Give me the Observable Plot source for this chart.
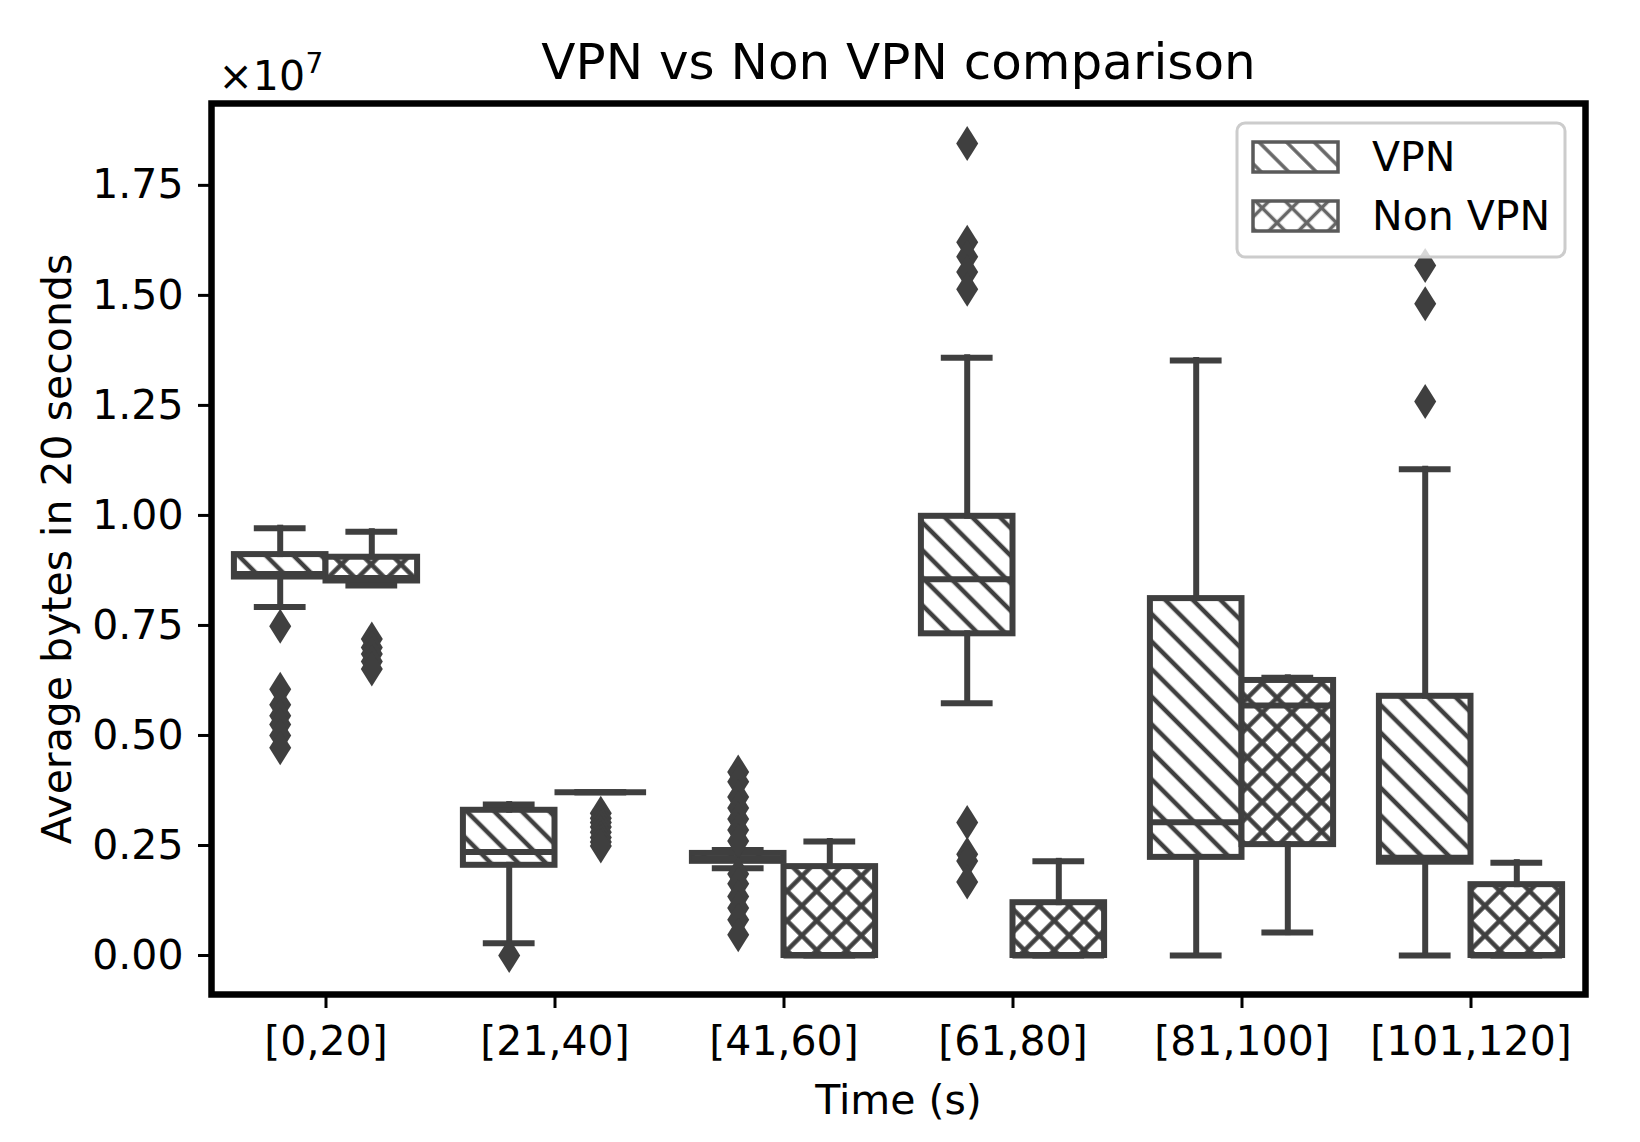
<!DOCTYPE html>
<html>
<head>
<meta charset="utf-8">
<script src="https://cdn.jsdelivr.net/npm/d3@7"></script>
<script src="https://cdn.jsdelivr.net/npm/@observablehq/plot@0.6"></script>
<style>
  html, body { margin: 0; padding: 0; background: #fff; }
  #chart svg { display: block; }
</style>
</head>
<body>
<div id="chart"></div>
<script>
// ---- data (bytes) ----
const categories = ["[0,20]", "[21,40]", "[41,60]", "[61,80]", "[81,100]", "[101,120]"];
const groups = ["VPN", "Non VPN"];

const vpnLow  = [7.92e6, 0.28e6, 1.98e6, 5.73e6, 0, 0];
const vpnQ1   = [8.60e6, 2.05e6, 2.14e6, 7.31e6, 2.23e6, 2.12e6];
const vpnMed  = [8.67e6, 2.35e6, 2.21e6, 8.55e6, 3.03e6, 2.22e6];
const vpnQ3   = [9.11e6, 3.30e6, 2.32e6, 9.98e6, 8.11e6, 5.89e6];
const vpnHigh = [9.71e6, 3.43e6, 2.40e6, 13.58e6, 13.52e6, 11.05e6];
const vpnOutliers = [
  [7.48e6, 6.05e6, 5.70e6, 5.45e6, 5.25e6, 5.00e6, 4.72e6],
  [0.0],
  [4.17e6, 3.95e6, 3.60e6, 3.35e6, 3.10e6, 2.85e6, 2.60e6, 1.85e6, 1.63e6, 1.34e6, 1.08e6, 0.81e6, 0.47e6],
  [18.45e6, 16.21e6, 15.88e6, 15.53e6, 15.14e6, 3.02e6, 2.30e6, 2.15e6, 1.67e6],
  [],
  [15.68e6, 14.81e6, 12.59e6]
];

const nonLow  = [8.41e6, 3.71e6, 0, 0, 0.52e6, 0];
const nonQ1   = [8.51e6, 3.71e6, 0, 0, 2.52e6, 0];
const nonMed  = [8.58e6, 3.71e6, 0, 0, 5.68e6, 0];
const nonQ3   = [9.05e6, 3.71e6, 2.02e6, 1.20e6, 6.25e6, 1.61e6];
const nonHigh = [9.63e6, 3.71e6, 2.59e6, 2.14e6, 6.31e6, 2.11e6];
const nonOutliers = [
  [7.19e6, 7.00e6, 6.85e6, 6.68e6, 6.51e6],
  [3.23e6, 3.12e6, 3.02e6, 2.92e6, 2.80e6, 2.68e6, 2.58e6, 2.49e6],
  [], [], [], []
];

const yTicks = [0, 2.5e6, 5e6, 7.5e6, 10e6, 12.5e6, 15e6, 17.5e6];

// ---- tables built from the arrays ----
const stats = {
  "VPN":     {low: vpnLow, q1: vpnQ1, med: vpnMed, q3: vpnQ3, high: vpnHigh, out: vpnOutliers},
  "Non VPN": {low: nonLow, q1: nonQ1, med: nonMed, q3: nonQ3, high: nonHigh, out: nonOutliers}
};
const boxes = groups.flatMap((g, gi) => categories.map((c, ci) => ({
  group: g, gi, ci,
  low: stats[g].low[ci], q1: stats[g].q1[ci], med: stats[g].med[ci],
  q3: stats[g].q3[ci], high: stats[g].high[ci]
})));
const fliers = groups.flatMap((g, gi) => categories.flatMap((c, ci) =>
  stats[g].out[ci].map(v => ({group: g, gi, ci, v}))));

// ---- layout constants ----
const W = 1640, H = 1142;
const mL = 211, mR = 55, mT = 103, mB = 148;
const BW = 0.4;              // width of one box in category units
const gray = "#3f3f3f";
const side = d => (d.gi === 0 ? -1 : 1);
const bx1 = d => d.ci + Math.min(0, side(d) * BW);
const bx2 = d => d.ci + Math.max(0, side(d) * BW);
const cx  = d => d.ci + side(d) * BW / 2;

const thinDiamond = {
  draw(ctx, size) {
    const r = Math.sqrt(size / Math.PI);
    const h = 1.75 * r, w = 1.1 * r;
    ctx.moveTo(0, -h); ctx.lineTo(w, 0); ctx.lineTo(0, h); ctx.lineTo(-w, 0); ctx.closePath();
  }
};

const lineOpts = {stroke: gray, strokeWidth: 6, strokeLinecap: "square"};

const plot = Plot.plot({
  width: W, height: H,
  marginLeft: mL, marginRight: mR, marginTop: mT, marginBottom: mB,
  style: {fontFamily: "DejaVu Sans", fontSize: "41px", background: "white", color: "black", overflow: "visible"},
  x: {domain: [-0.5, 5.5]},
  y: {domain: [-0.886e6, 19.36e6]},
  marks: [
    Plot.rect(boxes.filter(d => d.gi === 0), {x1: bx1, x2: bx2, y1: "q1", y2: "q3", fill: "url(#hatchVPN)", stroke: gray, strokeWidth: 6}),
    Plot.rect(boxes.filter(d => d.gi === 1), {x1: bx1, x2: bx2, y1: "q1", y2: "q3", fill: "url(#hatchNon)", stroke: gray, strokeWidth: 6}),
    Plot.ruleX(boxes.filter(d => d.high > d.q3), {x: cx, y1: "q3", y2: "high", ...lineOpts}),
    Plot.ruleX(boxes.filter(d => d.low < d.q1), {x: cx, y1: "low", y2: "q1", ...lineOpts}),
    Plot.ruleY(boxes, {y: "high", x1: d => cx(d) - BW / 4, x2: d => cx(d) + BW / 4, ...lineOpts}),
    Plot.ruleY(boxes, {y: "low", x1: d => cx(d) - BW / 4, x2: d => cx(d) + BW / 4, ...lineOpts}),
    Plot.ruleY(boxes, {y: "med", x1: bx1, x2: bx2, stroke: gray, strokeWidth: 6}),
    Plot.dot(fliers, {x: cx, y: "v", symbol: thinDiamond, r: 10, fill: gray, stroke: "none"}),
    Plot.frame({stroke: "black", strokeWidth: 6.5}),
    Plot.axisX(d3.range(categories.length), {tickFormat: i => categories[i], tickSize: 14, tickPadding: 17, strokeWidth: 3, label: null, fill: "black", stroke: "black"}),
    Plot.axisY(yTicks, {tickFormat: d => (d / 1e7).toFixed(2), tickSize: 13, tickPadding: 15, strokeWidth: 3, label: null, fill: "black", stroke: "black"}),
    Plot.text(["VPN vs Non VPN comparison"], {text: d => d, frameAnchor: "top", lineAnchor: "bottom", dy: -25, fontSize: 50, fill: "black"}),
    Plot.text(["Time (s)"], {text: d => d, frameAnchor: "bottom", lineAnchor: "bottom", dy: 119, fontSize: 41, fill: "black"}),
    Plot.text(["Average bytes in 20 seconds"], {text: d => d, frameAnchor: "left", textAnchor: "middle", lineAnchor: "middle", rotate: -90, dx: -154, fontSize: 41, fill: "black"}),
    Plot.text(["\u00d710"], {text: d => d, frameAnchor: "top-left", textAnchor: "start", lineAnchor: "bottom", dx: 7, dy: -14, fontSize: 41, fill: "black"}),
    Plot.text(["7"], {text: d => d, frameAnchor: "top-left", textAnchor: "start", lineAnchor: "bottom", dx: 94, dy: -31, fontSize: 28, fill: "black"})
  ]
});

// ---- hatch patterns ----
const svg = d3.select(plot);
const defs = svg.insert("defs", ":first-child");
function hatch(id, d, cross, color, sw) {
  const p = defs.append("pattern").attr("id", id).attr("patternUnits", "userSpaceOnUse")
    .attr("width", d).attr("height", d)
    .attr("patternTransform", cross ? "rotate(45)" : "rotate(-45)");
  p.append("rect").attr("width", d).attr("height", d).attr("fill", "white");
  p.append("line").attr("x1", d / 2).attr("x2", d / 2).attr("y1", -1).attr("y2", d + 1)
    .attr("stroke", color).attr("stroke-width", sw);
  if (cross) p.append("line").attr("y1", d / 2).attr("y2", d / 2).attr("x1", -1).attr("x2", d + 1)
    .attr("stroke", color).attr("stroke-width", sw);
}
hatch("hatchVPN", 19.5, false, gray, 4.5);
hatch("hatchNon", 21, true, gray, 4.5);
hatch("hatchVPNLeg", 19.5, false, "#666", 3.5);
hatch("hatchNonLeg", 21, true, "#666", 3.5);

// ---- legend (upper right, inside the frame) ----
const frameRight = W - mR, frameTop = mT;
const lgW = 328, lgH = 134;
const lgX = frameRight - 20 - lgW, lgY = frameTop + 20;
const lg = svg.append("g").attr("font-family", "DejaVu Sans").attr("font-size", 41)
  .attr("text-anchor", "start").style("text-anchor", "start");
lg.append("rect").attr("x", lgX).attr("y", lgY).attr("width", lgW).attr("height", lgH)
  .attr("rx", 8).attr("fill", "white").attr("fill-opacity", 0.8)
  .attr("stroke", "#cccccc").attr("stroke-width", 3);
groups.forEach((g, i) => {
  const py = lgY + 19 + i * 59;
  lg.append("rect").attr("x", lgX + 16).attr("y", py).attr("width", 85).attr("height", 30)
    .attr("fill", i === 0 ? "url(#hatchVPNLeg)" : "url(#hatchNonLeg)")
    .attr("stroke", "#5a5a5a").attr("stroke-width", 3.5);
  lg.append("text").attr("x", lgX + 135).attr("y", py + 29).attr("fill", "black")
    .attr("text-anchor", "start").text(g);
});

document.getElementById("chart").appendChild(plot);
</script>
</body>
</html>
